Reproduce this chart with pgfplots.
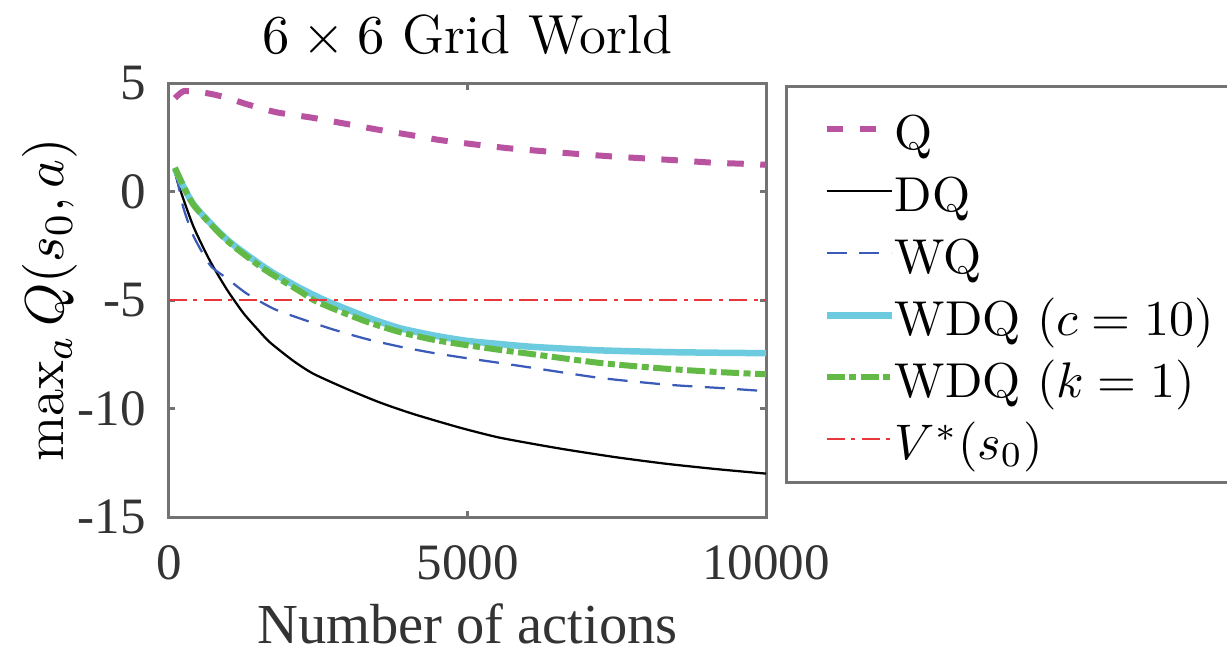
\documentclass[border=0pt]{standalone}
\usepackage{fontspec}
\usepackage{pgfplots}
\pgfplotsset{compat=1.18}
\newfontfamily\timesf{Liberation Serif}

\definecolor{qmag}{RGB}{185,82,160}
\definecolor{wqblue}{RGB}{58,91,184}
\definecolor{wdqcyan}{RGB}{108,203,223}
\definecolor{wdqgreen}{RGB}{99,185,70}
\definecolor{vred}{RGB}{232,55,58}

\begin{document}
\begin{tikzpicture}
\useasboundingbox (-33.8pt,-26pt) rectangle (211.6pt,103.4pt);
\begin{axis}[
  scale only axis, width=119.4pt, height=86.8pt,
  xmin=0, xmax=10000, ymin=-15, ymax=5,
  scaled x ticks=false,
  axis line style={black!55, line width=0.6pt},
  tick style={black!55, line width=0.6pt},
  major tick length=1.3pt,
  tick align=inside,
  xtick={0,5000,10000}, xticklabels={0,5000,10000},
  ytick={-15,-10,-5,0,5}, yticklabels={-15,-10,-5,0,5},
  tick label style={font=\timesf\fontsize{10.2}{11}\selectfont, text=black!80},
  xticklabel style={yshift=-2.2pt},
  yticklabel style={xshift=-1.1pt},
  xlabel={Number of actions},
  xlabel style={font=\timesf\fontsize{11.3}{13}\selectfont, text=black!80,
    at={(axis description cs:0.5,0)}, anchor=north, yshift=-13.8pt},
  ylabel={$\max_a Q(s_0,a)$},
  ylabel style={font=\fontsize{11.1}{13}\selectfont,
    at={(axis description cs:0,0.5)}, anchor=center, yshift=23.8pt},
  title={$6\times 6$ Grid World},
  title style={font=\fontsize{11}{13}\selectfont, at={(0.5,1)}, anchor=base, yshift=-0.1pt},
  legend cell align=left,
  legend style={at={(1,1)}, anchor=north west, xshift=3.8pt, yshift=-0.4pt,
    draw=black!55, line width=0.5pt,
    font=\fontsize{9.8}{12}\selectfont,
    inner xsep=7.4pt, inner ysep=2.4pt, row sep=0pt, column sep=0pt,
    nodes={inner xsep=0pt, inner ysep=0.7pt, text height=9.5pt, text depth=1.5pt}},
  legend image code/.code={\draw[#1] (0pt,0pt) -- (13pt,0pt);},
  every axis plot/.append style={smooth, tension=0.4},
]
% Q
\addplot[qmag, line width=1.2pt, dash pattern=on 3.3pt off 3.3pt] coordinates {
  (100,4.3) (240,4.62) (450,4.6) (700,4.5) (1000,4.3) (1270,4.05) (1800,3.65)
  (2400,3.4) (3000,3.1) (3500,2.85) (4050,2.6) (4540,2.37) (5150,2.16)
  (5700,1.99) (6300,1.85) (6850,1.73) (7400,1.62) (8000,1.52) (8550,1.43)
  (9100,1.33) (9700,1.27) (10000,1.23)
};
\addlegendentry{Q}
% DQ
\addplot[black, line width=0.45pt] coordinates {
  (100,0.9) (160,0.3) (407,-1.6) (687,-3.2) (966,-4.5) (1245,-5.6)
  (1500,-6.4) (1690,-6.95) (2080,-7.8) (2420,-8.4) (2980,-9.1)
  (3530,-9.72) (4090,-10.25) (4870,-10.88) (5500,-11.32) (6100,-11.63)
  (6670,-11.9) (7500,-12.25) (8340,-12.55) (9200,-12.8) (10000,-13.0)
};
\addlegendentry{DQ}
% WQ
\addplot[wqblue, line width=0.45pt, dash pattern=on 4pt off 2.5pt] coordinates {
  (100,0.9) (130,0.65) (240,-0.74) (410,-2.05) (690,-3.4) (970,-4.0)
  (1300,-4.7) (1750,-5.4) (2194,-5.85) (2752,-6.36) (3311,-6.8)
  (3869,-7.15) (4427,-7.44) (4986,-7.68) (5544,-7.9) (6100,-8.13)
  (7220,-8.59) (8340,-8.9) (9200,-9.05) (10000,-9.2)
};
\addlegendentry{WQ}
% WDQ (c=10)
\addplot[wdqcyan, line width=1.3pt] coordinates {
  (100,1.05) (407,-0.58) (966,-2.2) (1524,-3.35) (1804,-3.85) (2194,-4.45)
  (2600,-5.0) (3000,-5.45) (3400,-5.88) (3869,-6.3) (4427,-6.63)
  (4986,-6.88) (5544,-7.03) (6100,-7.16) (7220,-7.32) (8340,-7.4)
  (9200,-7.43) (10000,-7.45)
};
\addlegendentry{WDQ $(c=10)$}
% WDQ (k=1)
\addplot[wdqgreen, line width=1.2pt, dash pattern=on 3.6pt off 0.9pt on 1.4pt off 0.9pt] coordinates {
  (100,1.1) (407,-0.6) (966,-2.25) (1524,-3.45) (1804,-3.95) (2194,-4.6)
  (2420,-5.0) (2752,-5.4) (3311,-6.0) (3869,-6.48) (4427,-6.83)
  (4986,-7.08) (5544,-7.3) (6100,-7.5) (7220,-7.9) (8340,-8.17)
  (9200,-8.32) (10000,-8.42)
};
\addlegendentry{WDQ $(k=1)$}
% V*(s0)
\addplot[vred, line width=0.4pt, dash pattern=on 3.6pt off 1.3pt on 0.8pt off 1.3pt] coordinates {
  (0,-5) (10000,-5)
};
\addlegendentry{$V^*(s_0)$}
\end{axis}
\end{tikzpicture}
\end{document}
